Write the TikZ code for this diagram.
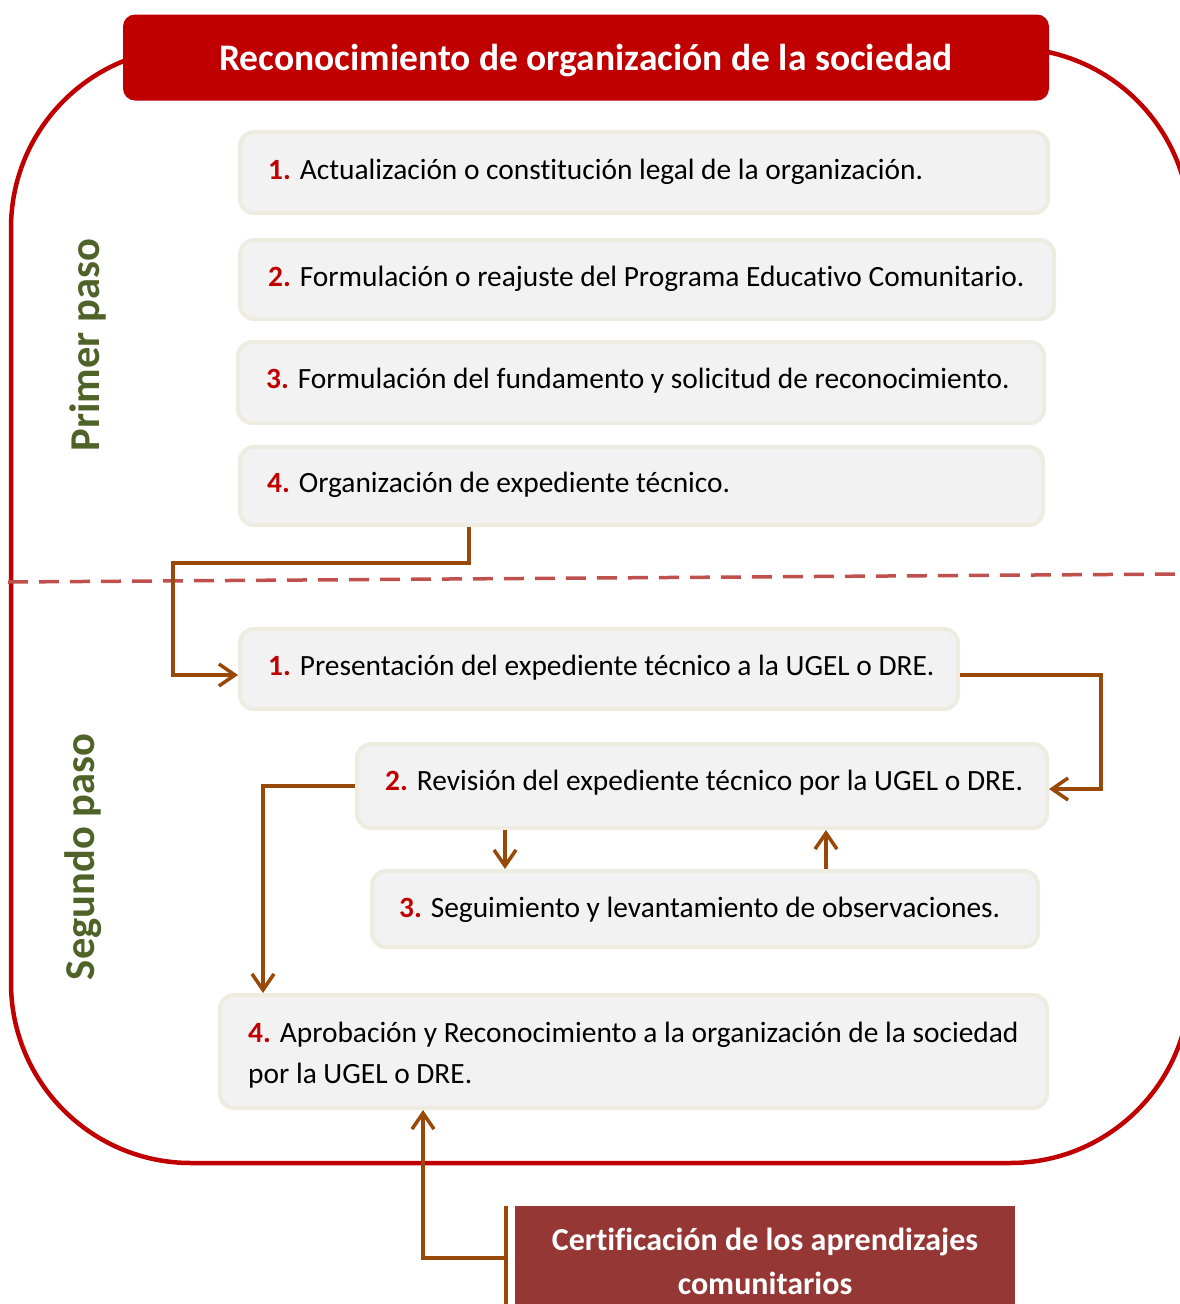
\documentclass[tikz,border=0pt]{standalone}
\usepackage{fontspec}
\setmainfont{Carlito}[Ligatures=NoCommon]
\usetikzlibrary{arrows.meta,calc}
\definecolor{titlered}{HTML}{C00000}
\definecolor{boxfill}{HTML}{F2F2F2}
\definecolor{boxline}{HTML}{EEECE1}
\definecolor{brown}{HTML}{984807}
\definecolor{dashred}{HTML}{C0504D}
\definecolor{stepgreen}{HTML}{4F6228}
\definecolor{certfill}{HTML}{953735}
\tikzset{
  outerframe/.style={draw=titlered,line width=4.5pt,rounded corners=180pt},
  stepbox/.style={draw=boxline,fill=boxfill,line width=4pt,rounded corners=14pt,inner sep=0pt},
  steptext/.style={anchor=base west,inner sep=0pt,font=\fontsize{29.4}{35}\selectfont},
  conn/.style={draw=brown,line width=3.5pt,-{Straight Barb[length=16pt,width=22pt]}},
  connline/.style={draw=brown,line width=3.5pt},
  sidelabel/.style={rotate=90,text=stepgreen,font=\bfseries\fontsize{42.5}{50}\selectfont,inner sep=0pt},
  certtext/.style={anchor=base,inner sep=0pt,text=white,font=\bfseries\fontsize{32}{38}\selectfont},
}
\newcommand{\num}[1]{{\bfseries\color{titlered}#1}}
\begin{document}
\begin{tikzpicture}[x=1pt,y=-1pt]
\clip (0,0) rectangle (1180,1304);
\fill[white] (0,0) rectangle (1180,1304);
% outer frame
\draw[outerframe] (11,48) rectangle (1190,1163);
% dashed separator
\draw[draw=dashred,line width=3.5pt,dash pattern=on 20pt off 11pt] (8,582) -- (1180,574);
% side labels
\node[sidelabel] (lab1) at (88,345) {Primer paso};
\node[sidelabel] (lab2) at (83,857) {Segundo paso};
% first step boxes
\node[stepbox,minimum width=808,minimum height=81] (b1) at (644,172.5) {};
\node[stepbox,minimum width=814,minimum height=79] (b2) at (647,279.5) {};
\node[stepbox,minimum width=806,minimum height=81] (b3) at (641,382.5) {};
\node[stepbox,minimum width=803,minimum height=78] (b4) at (641.5,486) {};
% second step boxes
\node[stepbox,minimum width=718,minimum height=80] (s1) at (599,669) {};
\node[stepbox,minimum width=690,minimum height=84] (s2) at (702,786) {};
\node[stepbox,minimum width=666,minimum height=76] (s3) at (705,909) {};
\node[stepbox,minimum width=827,minimum height=113] (s4) at (633.5,1051.5) {};
% texts
\node[steptext] (t1) at (268,179) {\num{1.} Actualización o constitución legal de la organización.};
\node[steptext] (t2) at (268,286) {\num{2.} Formulación o reajuste del Programa Educativo Comunitario.};
\node[steptext] (t3) at (266,388) {\num{3.} Formulación del fundamento y solicitud de reconocimiento.};
\node[steptext] (t4) at (267,492) {\num{4.} Organización de expediente técnico.};
\node[steptext] (u1) at (268,675) {\num{1.} Presentación del expediente técnico a la UGEL o DRE.};
\node[steptext] (u2) at (385,790) {\num{2.} Revisión del expediente técnico por la UGEL o DRE.};
\node[steptext] (u3) at (399,917) {\num{3.} Seguimiento y levantamiento de observaciones.};
\node[steptext] (u4a) at (248,1042) {\num{4.} Aprobación y Reconocimiento a la organización de la sociedad};
\node[steptext] (u4b) at (248,1083) {por la UGEL o DRE.};
% certification box
\node[fill=certfill,minimum width=500,minimum height=120,inner sep=0pt] (cert) at (765,1266) {};
\node[certtext] (c1) at (765,1250) {Certificación de los aprendizajes};
\node[certtext] (c2) at (765,1294) {comunitarios};
% connector columns
\coordinate (xa) at (469,0);
\coordinate (xb) at (505,0);
\coordinate (xc) at (826,0);
\coordinate (xd) at (263,0);
\coordinate (xe) at (423,0);
\coordinate (xf) at (506,0);
\coordinate (ya) at (0,1258);
% connectors
\draw[conn] (b4.south -| xa) |- (173,563) |- ([yshift=-6pt]s1.west);
\draw[conn] ([yshift=-6pt]s1.east) -| (1101,789) -- ([yshift=-3pt]s2.east);
\draw[conn] (s2.west) -| (s4.north -| xd);
\draw[conn] (s2.south -| xb) -- (s3.north -| xb);
\draw[conn] (s3.north -| xc) -- (s2.south -| xc);
\draw[connline] (cert.north -| xf) -- (cert.south -| xf);
\draw[conn] (xf |- ya) -| (s4.south -| xe);
% title
\node[fill=titlered,rounded corners=12pt,minimum width=926,minimum height=86,inner sep=0pt] (title) at (586,57.5) {};
\node[anchor=base,inner sep=0pt,text=white,font=\bfseries\fontsize{37.5}{44}\selectfont] (tt) at (586,70) {Reconocimiento de organización de la sociedad};
\end{tikzpicture}
\end{document}
